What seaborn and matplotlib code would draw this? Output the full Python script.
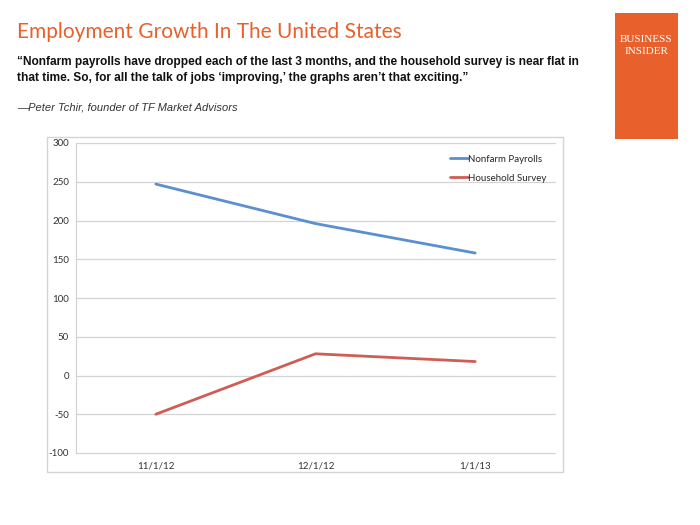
import matplotlib
matplotlib.use("Agg")
import matplotlib.pyplot as plt
import seaborn as sns
import pandas as pd
from matplotlib.patches import Rectangle

dates = ["11/1/12", "12/1/12", "1/1/13"]
nonfarm = [247, 196, 158]
household = [-50, 28, 18]
series_names = ["Nonfarm Payrolls", "Household Survey"]
yticks = [-100, -50, 0, 50, 100, 150, 200, 250, 300]

df = pd.DataFrame({
    "date": dates * 2,
    "value": nonfarm + household,
    "series": [series_names[0]] * 3 + [series_names[1]] * 3,
})

sns.set_theme(style="white")
plt.rcParams["font.family"] = ["Lato", "DejaVu Sans"]

fig = plt.figure(figsize=(7, 5.25), dpi=100)
W, H = 700, 525

def fx(px):
    return px / W

def fy(py):
    return 1 - py / H

# chart frame
fig.patches.append(Rectangle((fx(47), fy(472)), fx(563) - fx(47), fy(137) - fy(472),
                             transform=fig.transFigure, fill=False,
                             edgecolor="#d4d4d4", linewidth=1.0, zorder=0))

ax = fig.add_axes([fx(76), fy(453), fx(555) - fx(76), fy(143) - fy(453)])

palette = {series_names[0]: "#5b8fcf", series_names[1]: "#cf5d57"}
sns.lineplot(data=df, x="date", y="value", hue="series", palette=palette,
             linewidth=2.0, ax=ax, sort=False)

ax.set_xlim(-0.5, 2.5)
ax.set_ylim(-100, 300)
ax.set_yticks(yticks)
ax.set_yticklabels([str(t) for t in yticks], fontsize=7, color="#333333")
ax.tick_params(axis="x", labelsize=7, colors="#333333", length=0, pad=6)
ax.tick_params(axis="y", length=0, pad=5)
ax.set_xlabel("")
ax.set_ylabel("")
ax.grid(axis="y", color="#d4d4d4", linewidth=0.9)
for gl in ax.get_ygridlines():
    gl.set_clip_on(False)
ax.set_axisbelow(True)
for s in ["top", "right", "bottom"]:
    ax.spines[s].set_visible(False)
ax.spines["left"].set_color("#d4d4d4")
ax.spines["left"].set_linewidth(0.9)

leg = ax.legend(loc="upper right", bbox_to_anchor=(1.0, 0.99), frameon=False,
                fontsize=7, handlelength=1.8, handletextpad=0.0, labelspacing=1.0)

# titles
fig.text(fx(17), fy(32), "Employment Growth In The United States", fontsize=15,
         color="#e8602c", family=["Lato", "DejaVu Sans"], va="center")
fig.text(fx(17), fy(70),
         "\u201cNonfarm payrolls have dropped each of the last 3 months, and the household survey is near flat in\n"
         "that time. So, for all the talk of jobs \u2018improving,\u2019 the graphs aren\u2019t that exciting.\u201d",
         fontsize=8.6, fontweight="bold", color="#111111", va="center", linespacing=1.35,
         family=["Liberation Sans", "DejaVu Sans"])
fig.text(fx(17), fy(108), "\u2014Peter Tchir, founder of TF Market Advisors", fontsize=8,
         style="italic", color="#333333", va="center", family=["Liberation Sans", "DejaVu Sans"])

# logo
fig.patches.append(Rectangle((fx(615), fy(139)), fx(678) - fx(615), fy(13) - fy(139),
                             transform=fig.transFigure, facecolor="#e8602c",
                             edgecolor="none"))
fig.text(fx(646.5), fy(40), "BUSINESS", fontsize=8, color="white",
         family=["Liberation Serif", "DejaVu Serif"], ha="center", va="center")
fig.text(fx(646.5), fy(52), "INSIDER", fontsize=8, color="white",
         family=["Liberation Serif", "DejaVu Serif"], ha="center", va="center")

fig.savefig("out.png", dpi=100)
